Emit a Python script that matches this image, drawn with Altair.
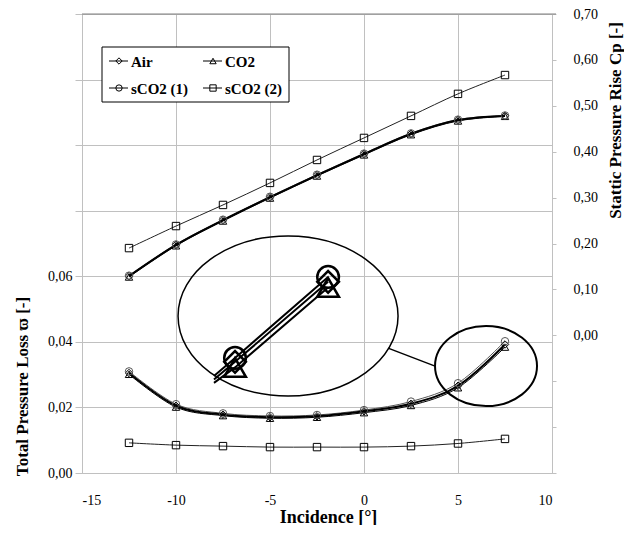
import altair as alt
import pandas as pd

# ---------------- data ----------------
incidence = [-12.5, -10, -7.5, -5, -2.5, 0, 2.5, 5, 7.5]
series = ["Air", "CO2", "sCO2 (1)", "sCO2 (2)"]
shapes = ["diamond", "triangle-up", "circle", "square"]

loss_air = [0.0305, 0.0205, 0.0178, 0.0170, 0.0173, 0.0188, 0.0211, 0.0266, 0.0392]
loss_co2 = [0.0301, 0.0201, 0.0175, 0.0167, 0.0170, 0.0184, 0.0206, 0.0260, 0.0384]
loss_sco2_1 = [0.0310, 0.0210, 0.0182, 0.0174, 0.0177, 0.0192, 0.0218, 0.0274, 0.0402]
loss_sco2_2 = [0.0092, 0.0085, 0.0082, 0.0079, 0.0079, 0.0079, 0.0082, 0.0090, 0.0104]

cp_air = [0.129, 0.197, 0.251, 0.301, 0.349, 0.395, 0.439, 0.469, 0.478]
cp_co2 = [0.127, 0.195, 0.249, 0.299, 0.347, 0.393, 0.437, 0.467, 0.477]
cp_sco2_1 = [0.130, 0.198, 0.252, 0.302, 0.350, 0.396, 0.440, 0.470, 0.479]
cp_sco2_2 = [0.190, 0.238, 0.284, 0.332, 0.382, 0.430, 0.478, 0.526, 0.567]

# magnified inset (drawn in loss-axis units)
inset_x = [-7.98, -6.86, -1.91]
inset_sco2_1 = [0.0296, 0.0351, 0.0598]
inset_air = [0.0285, 0.0339, 0.0583]
inset_co2 = [0.0275, 0.0322, 0.0566]

# annotation ellipses and connector (loss-axis units)
ellipse_x = [-4.04, 6.49]
ellipse_y = [0.0479, 0.0326]
connector_x = [1.28, 3.78]
connector_y = [0.0381, 0.0326]

left_ticks = [0.0, 0.02, 0.04, 0.06, 0.08, 0.10, 0.12, 0.14]
right_ticks = [-0.3, -0.2, -0.1, 0.0, 0.1, 0.2, 0.3, 0.4, 0.5, 0.6, 0.7]
x_ticks = [-15, -10, -5, 0, 5, 10]

# ---------------- tables ----------------
rows = []
for s, lo, cp in zip(series, [loss_air, loss_co2, loss_sco2_1, loss_sco2_2],
                     [cp_air, cp_co2, cp_sco2_1, cp_sco2_2]):
    for x, l, c in zip(incidence, lo, cp):
        rows.append({"incidence": x, "series": s, "loss": l, "cp": c})
df = pd.DataFrame(rows)

W, H = 470, 459
FONT = "Liberation Serif"
GRID = "#c0c0c0"

x_enc = alt.X("incidence:Q", scale=alt.Scale(domain=[-15, 10], nice=False, zero=False),
              axis=alt.Axis(values=x_ticks, labelExpr="'' + datum.value", ticks=False,
                            labelPadding=20, grid=True, gridColor=GRID, domainColor=GRID,
                            title="Incidence [°]", titleX=246, titleY=44, titleFontSize=18,
                            titleAlign="center", titleBaseline="middle"))

yl_scale = alt.Scale(domain=[0, 0.14], nice=False, zero=False)
yl_axis = alt.Axis(values=left_ticks,
                   labelExpr="datum.value <= 0.061 ? replace(format(datum.value, '.2f'), '.', ',') : ''",
                   grid=True, gridColor=GRID, domainColor=GRID, tickColor=GRID, tickSize=7,
                   labelPadding=3, title="Total Pressure Loss ϖ [-]", titleX=-60, titleY=372,
                   titleAngle=270, titleAlign="center", titleBaseline="middle")
yr_scale = alt.Scale(domain=[-0.3, 0.7], nice=False, zero=False)
yr_axis = alt.Axis(orient="right", values=right_ticks,
                   labelExpr="datum.value >= -0.001 ? replace(format(datum.value, '.2f'), '.', ',') : ''",
                   grid=False, domainColor=GRID, tickColor=GRID, tickSize=4, labelPadding=17,
                   title="Stattic Pressure Rise Cp [-]", titleX=63, titleY=106,
                   titleAngle=270, titleAlign="center", titleBaseline="middle")

line_color = {"Air": "black", "CO2": "black", "sCO2 (1)": "#555555", "sCO2 (2)": "#222222"}
line_width = {"Air": 2, "CO2": 1, "sCO2 (1)": 1, "sCO2 (2)": 1}
draw_order = ["sCO2 (2)", "sCO2 (1)", "CO2", "Air"]

shape_enc = alt.Shape("series:N", scale=alt.Scale(domain=series, range=shapes), legend=None)
pcolor_enc = alt.Color("series:N", scale=alt.Scale(domain=series,
                       range=["black", "black", "#555555", "black"]), legend=None)

base = alt.Chart(df)


def side(field, y_scale, y_axis):
    y_enc = alt.Y(f"{field}:Q", scale=y_scale, axis=y_axis)
    layers = []
    for s in draw_order:
        layers.append(base.transform_filter(alt.datum.series == s)
                      .mark_line(interpolate="cardinal", color=line_color[s],
                                 strokeWidth=line_width[s])
                      .encode(x=x_enc, y=y_enc))
    layers.append(base.mark_point(filled=False, size=55, strokeWidth=1, opacity=1)
                  .encode(x=x_enc, y=y_enc, shape=shape_enc, stroke=pcolor_enc))
    return layers


left_layers = side("loss", yl_scale, yl_axis)
right_layers = side("cp", yr_scale, yr_axis)

# ----- inset (magnified) -----
inset_rows = []
for s, ys in zip(["sCO2 (1)", "Air", "CO2"], [inset_sco2_1, inset_air, inset_co2]):
    for i, (x, y) in enumerate(zip(inset_x, ys)):
        inset_rows.append({"ix": x, "iy": y, "series": s, "k": i})
inset_df = pd.DataFrame(inset_rows)
ix_enc = alt.X("ix:Q", scale=alt.Scale(domain=[-15, 10], nice=False, zero=False))
iy_enc = alt.Y("iy:Q", scale=yl_scale, axis=yl_axis)
inset_shape = alt.Shape("series:N", scale=alt.Scale(domain=series, range=shapes), legend=None)
inset_lines = (alt.Chart(inset_df).mark_line(color="black", strokeWidth=2)
               .encode(x=ix_enc, y=iy_enc, detail="series:N"))
inset_pts = (alt.Chart(inset_df).transform_filter(alt.datum.k > 0)
             .mark_point(filled=False, size=470, strokeWidth=2.5, color="black", opacity=1)
             .encode(x=ix_enc, y=iy_enc, shape=inset_shape))

# ----- ellipses + connector -----
def ellipse_path(r):
    k = 0.5523
    kr = k * r
    return (f"M 1 0 C 1 {kr:.4f} {k} {r:.4f} 0 {r:.4f} "
            f"C {-k} {r:.4f} -1 {kr:.4f} -1 0 "
            f"C -1 {-kr:.4f} {-k} {-r:.4f} 0 {-r:.4f} "
            f"C {k} {-r:.4f} 1 {-kr:.4f} 1 0 Z")

ell_df = pd.DataFrame({"ex": ellipse_x, "ey": ellipse_y})
ex_enc = alt.X("ex:Q", scale=alt.Scale(domain=[-15, 10], nice=False, zero=False))
ey_enc = alt.Y("ey:Q", scale=yl_scale, axis=yl_axis)
big_ell = (alt.Chart(ell_df.iloc[[0]]).mark_point(shape=ellipse_path(80 / 110), size=220 ** 2,
                                                  filled=False, color="black", strokeWidth=1.5, opacity=1)
           .encode(x=ex_enc, y=ey_enc))
small_ell = (alt.Chart(ell_df.iloc[[1]]).mark_point(shape=ellipse_path(40 / 51), size=102 ** 2,
                                                    filled=False, color="black", strokeWidth=2, opacity=1)
             .encode(x=ex_enc, y=ey_enc))
conn_df = pd.DataFrame({"ex": connector_x, "ey": connector_y})
connector = alt.Chart(conn_df).mark_line(color="black", strokeWidth=1.5).encode(x=ex_enc, y=ey_enc)

# ----- top frame line -----
one = alt.Data(values=[{"a": 1}])
top_rule = alt.Chart(one).mark_rule(color="#808080", strokeWidth=1).encode(
    x=alt.value(0), x2=alt.value(W + 4), y=alt.value(0))

# ----- manual legend -----
legend_layers = [alt.Chart(one).mark_rect(fill="white", stroke="black", strokeWidth=1).encode(
    x=alt.value(20), x2=alt.value(207), y=alt.value(33), y2=alt.value(88))]
for i, (s, shp) in enumerate(zip(series, shapes)):
    col, row = i % 2, i // 2
    x0 = 27 + col * 94
    yy = 47 + row * 27
    legend_layers.append(alt.Chart(one).mark_rule(color="black", strokeWidth=1).encode(
        x=alt.value(x0), x2=alt.value(x0 + 19), y=alt.value(yy)))
    legend_layers.append(alt.Chart(one).mark_point(shape=shp, size=40, filled=False,
                                                   color="black", strokeWidth=1, opacity=1).encode(
        x=alt.value(x0 + 10), y=alt.value(yy)))
    legend_layers.append(alt.Chart(one).mark_text(align="left", baseline="middle", font=FONT,
                                                  fontWeight="bold", fontSize=15, color="black").encode(
        x=alt.value(x0 + 22), y=alt.value(yy + 1), text=alt.value(s)))

left = alt.layer(*left_layers, inset_lines, inset_pts, big_ell, small_ell, connector,
                 top_rule, *legend_layers)
right = alt.layer(*right_layers)

chart = (alt.layer(left, right)
         .resolve_scale(y="independent", shape="independent", color="independent")
         .properties(width=W, height=H,
                     autosize=alt.AutoSizeParams(type="none"),
                     padding={"left": 74, "top": 6, "right": 72, "bottom": 52})
         .configure_view(stroke=None)
         .configure_axis(labelFont=FONT, labelFontSize=14, labelColor="black",
                         titleFont=FONT, titleFontSize=17, titleFontWeight="bold",
                         titleColor="black"))

chart.save("out.html", embed_options={"renderer": "svg", "actions": False})
